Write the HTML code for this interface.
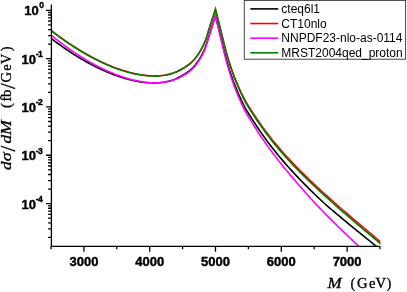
<!DOCTYPE html>
<html><head><meta charset="utf-8"><title>plot</title><style>html,body{margin:0;padding:0;background:#fff;overflow:hidden}svg{display:block;will-change:transform;opacity:0.999}</style></head><body>
<svg width="407" height="292" viewBox="0 0 407 292">
<defs><clipPath id="c"><rect x="51.4" y="0" width="329.00000000000006" height="246.3"/></clipPath></defs>
<rect width="407" height="292" fill="#fff"/>
<g clip-path="url(#c)" fill="none" stroke-width="1.6" stroke-linejoin="miter" stroke-miterlimit="6">
<path d="M51.00,38.26 L53.00,39.79 L55.00,41.30 L57.00,42.79 L59.00,44.25 L61.00,45.69 L63.00,47.11 L65.00,48.50 L67.00,49.86 L69.00,51.21 L71.00,52.52 L73.00,53.82 L75.00,55.09 L77.00,56.33 L79.00,57.55 L81.00,58.75 L83.00,59.92 L85.00,61.06 L87.00,62.19 L89.00,63.28 L91.00,64.35 L93.00,65.40 L95.00,66.42 L97.00,67.41 L99.00,68.38 L101.00,69.32 L103.00,70.23 L105.00,71.12 L107.00,71.98 L109.00,72.81 L111.00,73.61 L113.00,74.39 L115.00,75.14 L117.00,75.86 L119.00,76.54 L121.00,77.20 L123.00,77.83 L125.00,78.42 L127.00,78.99 L129.00,79.52 L131.00,80.01 L133.00,80.47 L135.00,80.90 L137.00,81.28 L139.00,81.63 L141.00,81.95 L143.00,82.21 L145.00,82.44 L147.00,82.65 L149.00,82.78 L151.00,82.82 L153.00,82.85 L155.00,82.86 L157.00,82.83 L159.00,82.71 L161.00,82.50 L163.00,82.27 L165.00,81.96 L167.00,81.56 L169.00,81.09 L171.00,80.55 L173.00,79.90 L175.00,79.15 L177.00,78.32 L179.00,77.32 L181.00,76.22 L183.00,75.06 L185.00,73.84 L187.00,72.50 L189.00,71.02 L191.00,69.34 L193.00,67.48 L195.00,65.26 L197.00,62.58 L199.00,59.62 L201.00,56.30 L203.00,52.60 L205.00,48.11 L207.00,42.33 L209.00,35.88 L211.00,29.56 L213.00,23.49 L215.45,15.99 L217.45,23.93 L219.45,31.89 L221.45,39.97 L223.45,48.01 L225.45,55.91 L227.45,63.25 L229.45,69.88 L231.45,75.85 L233.45,81.43 L235.45,86.64 L237.45,91.49 L239.45,96.09 L241.45,100.43 L243.45,104.51 L245.45,108.30 L247.45,111.78 L249.45,115.00 L251.45,118.08 L253.45,121.14 L255.45,124.21 L257.45,127.23 L259.45,130.20 L261.45,133.12 L263.45,135.97 L265.45,138.76 L267.45,141.48 L269.45,144.15 L271.45,146.76 L273.45,149.31 L275.45,151.81 L277.45,154.26 L279.45,156.67 L281.45,159.04 L283.45,161.37 L285.45,163.66 L287.45,165.93 L289.45,168.16 L291.45,170.37 L293.45,172.55 L295.45,174.71 L297.45,176.84 L299.45,178.94 L301.45,181.02 L303.45,183.08 L305.45,185.11 L307.45,187.13 L309.45,189.12 L311.45,191.09 L313.45,193.04 L315.45,194.98 L317.45,196.89 L319.45,198.78 L321.45,200.65 L323.45,202.48 L325.45,204.27 L327.45,206.04 L329.45,207.78 L331.45,209.49 L333.45,211.19 L335.45,212.87 L337.45,214.55 L339.45,216.21 L341.45,217.87 L343.45,219.53 L345.45,221.20 L347.45,222.86 L349.45,224.51 L351.45,226.15 L353.45,227.78 L355.45,229.41 L357.45,231.04 L359.45,232.66 L361.45,234.27 L363.45,235.89 L365.45,237.51 L367.45,239.13 L369.45,240.75 L371.45,242.38 L373.45,244.01 L375.45,245.65 L377.45,247.29 L379.45,248.93 L381.45,250.59" stroke="#000000"/>
<path d="M51.00,30.24 L53.00,31.79 L55.00,33.31 L57.00,34.81 L59.00,36.29 L61.00,37.74 L63.00,39.17 L65.00,40.57 L67.00,41.95 L69.00,43.31 L71.00,44.64 L73.00,45.95 L75.00,47.24 L77.00,48.50 L79.00,49.74 L81.00,50.95 L83.00,52.14 L85.00,53.30 L87.00,54.44 L89.00,55.56 L91.00,56.64 L93.00,57.71 L95.00,58.75 L97.00,59.76 L99.00,60.74 L101.00,61.71 L103.00,62.64 L105.00,63.55 L107.00,64.43 L109.00,65.28 L111.00,66.10 L113.00,66.90 L115.00,67.67 L117.00,68.40 L119.00,69.11 L121.00,69.79 L123.00,70.44 L125.00,71.05 L127.00,71.64 L129.00,72.19 L131.00,72.70 L133.00,73.18 L135.00,73.63 L137.00,74.03 L139.00,74.41 L141.00,74.74 L143.00,75.03 L145.00,75.28 L147.00,75.50 L149.00,75.65 L151.00,75.72 L153.00,75.76 L155.00,75.79 L157.00,75.79 L159.00,75.68 L161.00,75.49 L163.00,75.28 L165.00,74.99 L167.00,74.60 L169.00,74.15 L171.00,73.63 L173.00,73.00 L175.00,72.27 L177.00,71.45 L179.00,70.48 L181.00,69.39 L183.00,68.25 L185.00,67.04 L187.00,65.72 L189.00,64.25 L191.00,62.58 L193.00,60.74 L195.00,58.53 L197.00,55.87 L199.00,52.91 L201.00,49.60 L203.00,45.91 L205.00,41.42 L207.00,35.64 L209.00,29.17 L211.00,22.84 L213.00,16.72 L215.45,9.20 L217.45,17.08 L219.45,25.01 L221.45,33.05 L223.45,41.06 L225.45,48.90 L227.45,56.20 L229.45,62.78 L231.45,68.71 L233.45,74.25 L235.45,79.41 L237.45,84.23 L239.45,88.79 L241.45,93.10 L243.45,97.14 L245.45,100.90 L247.45,104.35 L249.45,107.54 L251.45,110.59 L253.45,113.61 L255.45,116.64 L257.45,119.62 L259.45,122.54 L261.45,125.39 L263.45,128.18 L265.45,130.91 L267.45,133.57 L269.45,136.17 L271.45,138.71 L273.45,141.19 L275.45,143.63 L277.45,146.02 L279.45,148.36 L281.45,150.67 L283.45,152.94 L285.45,155.17 L287.45,157.37 L289.45,159.53 L291.45,161.67 L293.45,163.77 L295.45,165.85 L297.45,167.91 L299.45,169.94 L301.45,171.94 L303.45,173.93 L305.45,175.90 L307.45,177.84 L309.45,179.77 L311.45,181.68 L313.45,183.57 L315.45,185.45 L317.45,187.31 L319.45,189.16 L321.45,191.00 L323.45,192.82 L325.45,194.63 L327.45,196.43 L329.45,198.22 L331.45,200.00 L333.45,201.77 L335.45,203.53 L337.45,205.28 L339.45,207.02 L341.45,208.76 L343.45,210.49 L345.45,212.21 L347.45,213.93 L349.45,215.64 L351.45,217.35 L353.45,219.05 L355.45,220.75 L357.45,222.44 L359.45,224.13 L361.45,225.82 L363.45,227.50 L365.45,229.18 L367.45,230.86 L369.45,232.54 L371.45,234.22 L373.45,235.89 L375.45,237.57 L377.45,239.24 L379.45,240.91 L381.45,242.59" stroke="#ff0000"/>
<path d="M51.00,35.09 L53.00,36.72 L55.00,38.32 L57.00,39.90 L59.00,41.44 L61.00,42.97 L63.00,44.46 L65.00,45.94 L67.00,47.38 L69.00,48.80 L71.00,50.19 L73.00,51.56 L75.00,52.90 L77.00,54.22 L79.00,55.51 L81.00,56.77 L83.00,58.01 L85.00,59.22 L87.00,60.41 L89.00,61.57 L91.00,62.70 L93.00,63.80 L95.00,64.88 L97.00,65.93 L99.00,66.96 L101.00,67.96 L103.00,68.93 L105.00,69.87 L107.00,70.78 L109.00,71.67 L111.00,72.52 L113.00,73.35 L115.00,74.15 L117.00,74.92 L119.00,75.65 L121.00,76.36 L123.00,77.04 L125.00,77.68 L127.00,78.29 L129.00,78.87 L131.00,79.41 L133.00,79.92 L135.00,80.39 L137.00,80.82 L139.00,81.22 L141.00,81.58 L143.00,81.89 L145.00,82.17 L147.00,82.42 L149.00,82.60 L151.00,82.69 L153.00,82.76 L155.00,82.82 L157.00,82.84 L159.00,82.77 L161.00,82.61 L163.00,82.42 L165.00,82.17 L167.00,81.81 L169.00,81.39 L171.00,80.90 L173.00,80.30 L175.00,79.61 L177.00,78.82 L179.00,77.88 L181.00,76.83 L183.00,75.73 L185.00,74.56 L187.00,73.28 L189.00,71.84 L191.00,70.21 L193.00,68.41 L195.00,66.24 L197.00,63.60 L199.00,60.68 L201.00,57.38 L203.00,53.70 L205.00,49.19 L207.00,43.36 L209.00,36.77 L211.00,30.21 L213.00,23.75 L215.45,15.98 L217.45,24.25 L219.45,32.77 L221.45,41.30 L223.45,49.67 L225.45,57.80 L227.45,65.33 L229.45,72.11 L231.45,78.22 L233.45,83.93 L235.45,89.26 L237.45,94.23 L239.45,98.95 L241.45,103.41 L243.45,107.60 L245.45,111.51 L247.45,115.11 L249.45,118.45 L251.45,121.65 L253.45,124.82 L255.45,128.00 L257.45,131.13 L259.45,134.20 L261.45,137.22 L263.45,140.16 L265.45,143.05 L267.45,145.88 L269.45,148.65 L271.45,151.35 L273.45,154.01 L275.45,156.63 L277.45,159.20 L279.45,161.73 L281.45,164.22 L283.45,166.70 L285.45,169.14 L287.45,171.57 L289.45,173.98 L291.45,176.37 L293.45,178.74 L295.45,181.09 L297.45,183.42 L299.45,185.73 L301.45,188.03 L303.45,190.31 L305.45,192.56 L307.45,194.81 L309.45,197.03 L311.45,199.23 L313.45,201.42 L315.45,203.59 L317.45,205.74 L319.45,207.87 L321.45,209.97 L323.45,212.05 L325.45,214.10 L327.45,216.12 L329.45,218.13 L331.45,220.11 L333.45,222.09 L335.45,224.05 L337.45,226.01 L339.45,227.97 L341.45,229.92 L343.45,231.84 L345.45,233.74 L347.45,235.62 L349.45,237.49 L351.45,239.37 L353.45,241.24 L355.45,243.13 L357.45,245.04 L359.45,246.97 L361.45,248.91 L363.45,250.86 L365.45,252.81 L367.45,254.77 L369.45,256.73 L371.45,258.70 L373.45,260.68 L375.45,262.67 L377.45,264.67 L379.45,266.68 L381.45,268.70" stroke="#ff00ff"/>
<path d="M51.00,30.54 L53.00,32.09 L55.00,33.61 L57.00,35.11 L59.00,36.59 L61.00,38.04 L63.00,39.47 L65.00,40.87 L67.00,42.25 L69.00,43.61 L71.00,44.94 L73.00,46.25 L75.00,47.54 L77.00,48.80 L79.00,50.04 L81.00,51.25 L83.00,52.44 L85.00,53.60 L87.00,54.74 L89.00,55.86 L91.00,56.94 L93.00,58.01 L95.00,59.05 L97.00,60.06 L99.00,61.04 L101.00,62.01 L103.00,62.94 L105.00,63.85 L107.00,64.73 L109.00,65.58 L111.00,66.40 L113.00,67.20 L115.00,67.97 L117.00,68.70 L119.00,69.41 L121.00,70.09 L123.00,70.74 L125.00,71.35 L127.00,71.94 L129.00,72.49 L131.00,73.00 L133.00,73.48 L135.00,73.93 L137.00,74.33 L139.00,74.71 L141.00,75.04 L143.00,75.33 L145.00,75.58 L147.00,75.80 L149.00,75.95 L151.00,76.02 L153.00,76.06 L155.00,76.09 L157.00,76.09 L159.00,75.98 L161.00,75.79 L163.00,75.58 L165.00,75.29 L167.00,74.90 L169.00,74.45 L171.00,73.93 L173.00,73.30 L175.00,72.57 L177.00,71.75 L179.00,70.78 L181.00,69.69 L183.00,68.55 L185.00,67.34 L187.00,66.02 L189.00,64.55 L191.00,62.88 L193.00,61.04 L195.00,58.83 L197.00,56.17 L199.00,53.21 L201.00,49.90 L203.00,46.21 L205.00,41.72 L207.00,35.94 L209.00,29.47 L211.00,23.14 L213.00,17.02 L215.45,9.50 L217.45,17.47 L219.45,25.50 L221.45,33.62 L223.45,41.70 L225.45,49.62 L227.45,56.98 L229.45,63.62 L231.45,69.60 L233.45,75.20 L235.45,80.41 L237.45,85.27 L239.45,89.87 L241.45,94.22 L243.45,98.30 L245.45,102.09 L247.45,105.57 L249.45,108.79 L251.45,111.87 L253.45,114.92 L255.45,117.97 L257.45,120.97 L259.45,123.91 L261.45,126.78 L263.45,129.59 L265.45,132.33 L267.45,135.01 L269.45,137.63 L271.45,140.18 L273.45,142.68 L275.45,145.13 L277.45,147.53 L279.45,149.89 L281.45,152.21 L283.45,154.49 L285.45,156.73 L287.45,158.94 L289.45,161.11 L291.45,163.26 L293.45,165.37 L295.45,167.46 L297.45,169.52 L299.45,171.56 L301.45,173.58 L303.45,175.57 L305.45,177.55 L307.45,179.50 L309.45,181.44 L311.45,183.35 L313.45,185.25 L315.45,187.14 L317.45,189.01 L319.45,190.87 L321.45,192.71 L323.45,194.54 L325.45,196.36 L327.45,198.16 L329.45,199.96 L331.45,201.74 L333.45,203.52 L335.45,205.29 L337.45,207.04 L339.45,208.79 L341.45,210.54 L343.45,212.27 L345.45,214.00 L347.45,215.73 L349.45,217.45 L351.45,219.16 L353.45,220.87 L355.45,222.57 L357.45,224.27 L359.45,225.97 L361.45,227.66 L363.45,229.35 L365.45,231.04 L367.45,232.72 L369.45,234.41 L371.45,236.09 L373.45,237.77 L375.45,239.45 L377.45,241.13 L379.45,242.81 L381.45,244.49" stroke="#008000"/>
</g>
<path d="M51.4,4.4 V246.3 H379.8 M46.00,10.30 H51.4 M46.00,58.62 H51.4 M48.10,44.07 H51.4 M48.10,35.57 H51.4 M48.10,29.53 H51.4 M48.10,24.85 H51.4 M48.10,21.02 H51.4 M48.10,17.78 H51.4 M48.10,14.98 H51.4 M48.10,12.51 H51.4 M46.00,106.94 H51.4 M48.10,92.39 H51.4 M48.10,83.89 H51.4 M48.10,77.85 H51.4 M48.10,73.17 H51.4 M48.10,69.34 H51.4 M48.10,66.10 H51.4 M48.10,63.30 H51.4 M48.10,60.83 H51.4 M46.00,155.26 H51.4 M48.10,140.71 H51.4 M48.10,132.21 H51.4 M48.10,126.17 H51.4 M48.10,121.49 H51.4 M48.10,117.66 H51.4 M48.10,114.42 H51.4 M48.10,111.62 H51.4 M48.10,109.15 H51.4 M46.00,203.58 H51.4 M48.10,189.03 H51.4 M48.10,180.53 H51.4 M48.10,174.49 H51.4 M48.10,169.81 H51.4 M48.10,165.98 H51.4 M48.10,162.74 H51.4 M48.10,159.94 H51.4 M48.10,157.47 H51.4 M48.10,237.35 H51.4 M48.10,228.85 H51.4 M48.10,222.81 H51.4 M48.10,218.13 H51.4 M48.10,214.30 H51.4 M48.10,211.06 H51.4 M48.10,208.26 H51.4 M48.10,205.79 H51.4 M51.00,246.3 v3 M83.90,246.3 v5.5 M116.80,246.3 v3 M149.70,246.3 v5.5 M182.60,246.3 v3 M215.50,246.3 v5.5 M248.40,246.3 v3 M281.30,246.3 v5.5 M314.20,246.3 v3 M347.10,246.3 v5.5 M380.00,246.3 v3" fill="none" stroke="#000" stroke-width="1.3"/>
<g font-family="'Liberation Sans', Arial, sans-serif" font-weight="bold" font-size="13" fill="#000" stroke="#000" stroke-width="0.4">
<text x="83.9" y="265.7" text-anchor="middle">3000</text>
<text x="149.7" y="265.7" text-anchor="middle">4000</text>
<text x="215.5" y="265.7" text-anchor="middle">5000</text>
<text x="281.3" y="265.7" text-anchor="middle">6000</text>
<text x="347.1" y="265.7" text-anchor="middle">7000</text>
<text x="24.2" y="14.7">10<tspan font-size="8.6" dx="0.5" dy="-6.9">0</tspan></text>
<text x="21.6" y="63.5">10<tspan font-size="8.6" dx="-0.2" dy="-6.6" letter-spacing="-0.7">-1</tspan></text>
<text x="21.6" y="111.8">10<tspan font-size="8.6" dx="-0.2" dy="-6.6" letter-spacing="-0.7">-2</tspan></text>
<text x="21.6" y="160.2">10<tspan font-size="8.6" dx="-0.2" dy="-6.6" letter-spacing="-0.7">-3</tspan></text>
<text x="21.6" y="208.5">10<tspan font-size="8.6" dx="-0.2" dy="-6.6" letter-spacing="-0.7">-4</tspan></text>
</g>
<g font-family="'Liberation Serif', 'Times New Roman', serif" font-size="14.6" fill="#000" stroke="#000" stroke-width="0.3">
<text transform="translate(0,287.6)"><tspan x="327.6" y="0" font-style="italic" textLength="14.2" lengthAdjust="spacingAndGlyphs">M</tspan><tspan x="345" y="0"> </tspan><tspan x="350.4" y="0">(</tspan><tspan x="357.0" y="0">G</tspan><tspan x="369.0" y="0">e</tspan><tspan x="375.5" y="0">V</tspan><tspan x="386.6" y="0">)</tspan></text>
<text transform="translate(11.4,170) rotate(-90)"><tspan x="0" y="0" font-style="italic" textLength="8.6" lengthAdjust="spacingAndGlyphs">d</tspan><tspan x="8.8" y="0" font-style="italic" textLength="9.0" lengthAdjust="spacingAndGlyphs">σ</tspan><tspan x="18.6" y="3.2" font-size="21">/</tspan><tspan x="26.4" y="0" font-style="italic" textLength="8.6" lengthAdjust="spacingAndGlyphs">d</tspan><tspan x="34.9" y="0" font-style="italic" textLength="14.8" lengthAdjust="spacingAndGlyphs">M</tspan><tspan x="55" y="0"> </tspan><tspan x="62.0" y="0">(</tspan><tspan x="68.6" y="0">f</tspan><tspan x="73.0" y="0">b</tspan><tspan x="81.0" y="3.2" font-size="21">/</tspan><tspan x="87.6" y="0">G</tspan><tspan x="99.3" y="0">e</tspan><tspan x="105.8" y="0">V</tspan><tspan x="118.8" y="0">)</tspan></text>
</g>
<rect x="244.3" y="0.4" width="161.3" height="58.8" fill="#fff" stroke="#333" stroke-width="0.9"/>
<g font-family="'Liberation Sans', Arial, sans-serif" font-size="12" fill="#000">
<path d="M250.3,8.90 H278.2" stroke="#000000" stroke-width="1.6"/>
<text x="281.3" y="13.10">cteq6l1</text>
<path d="M250.3,23.53 H278.2" stroke="#ff0000" stroke-width="1.6"/>
<text x="281.3" y="27.73">CT10nlo</text>
<path d="M250.3,38.16 H278.2" stroke="#ff00ff" stroke-width="1.6"/>
<text x="281.3" y="42.36">NNPDF23-nlo-as-0114</text>
<path d="M250.3,52.79 H278.2" stroke="#008000" stroke-width="1.6"/>
<text x="281.3" y="56.99">MRST2004qed_proton</text>
</g>
</svg>
</body></html>
